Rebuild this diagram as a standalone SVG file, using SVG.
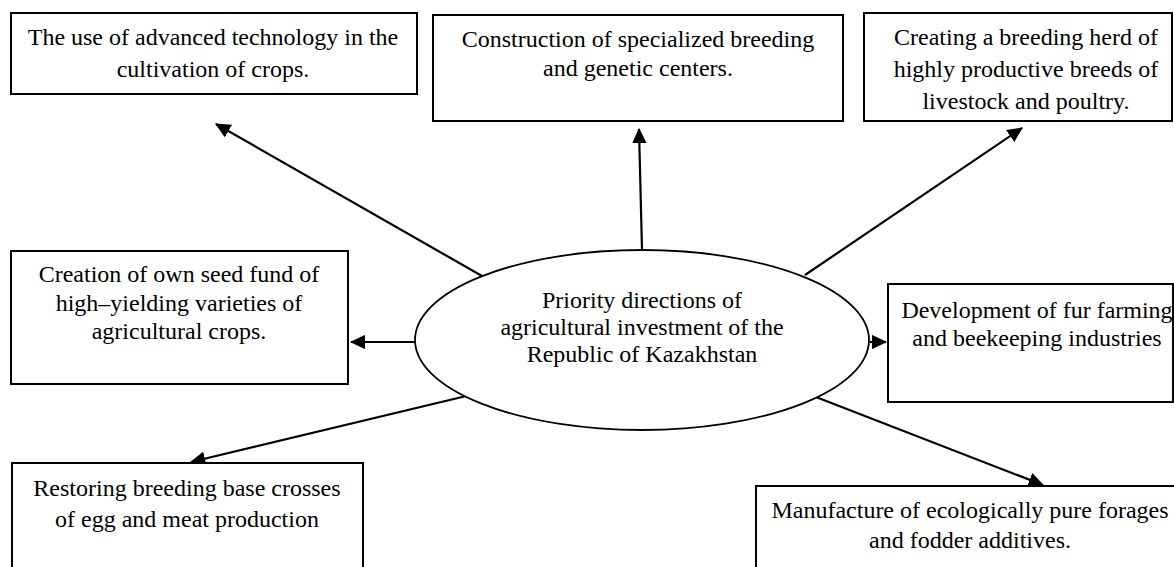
<svg xmlns="http://www.w3.org/2000/svg" width="1174" height="567" viewBox="0 0 1174 567">
<style>
.box{fill:#fff;stroke:#000;stroke-width:2}
.t{font-family:"Liberation Serif","Times New Roman",serif;font-size:24px;fill:#000;text-anchor:middle}
.c{stroke:#000;stroke-width:2.2;fill:none;marker-end:url(#ah)}
</style>
<defs>
<marker id="ah" markerWidth="7" markerHeight="6.6" refX="6.5" refY="3.3" orient="auto" markerUnits="strokeWidth">
<path d="M0,0 L7,3.3 L0,6.6 Z" fill="#000"/>
</marker>
</defs>
<rect width="1174" height="567" fill="#fff"/>
<g id="connectors">
<line class="c" x1="482" y1="276" x2="216" y2="124"/>
<line class="c" x1="642" y1="250" x2="639" y2="129"/>
<line class="c" x1="805" y1="275" x2="1022" y2="128"/>
<line class="c" x1="415" y1="342" x2="351" y2="342"/>
<line class="c" x1="870" y1="342" x2="886" y2="342"/>
<line class="c" x1="483" y1="392" x2="191" y2="462"/>
<line class="c" x1="803" y1="392" x2="1043" y2="485"/>
</g>
<g id="center">
<ellipse cx="642" cy="340" rx="227" ry="90" fill="#fff" stroke="#000" stroke-width="1.8"/>
<text class="t" x="642" y="308">Priority directions of</text>
<text class="t" x="642" y="335">agricultural investment of the</text>
<text class="t" x="642" y="362">Republic of Kazakhstan</text>
</g>
<g id="n1">
<rect class="box" x="11" y="13" width="406" height="81"/>
<text class="t" x="213" y="45">The use of advanced technology in the</text>
<text class="t" x="213" y="77">cultivation of crops.</text>
</g>
<g id="n2">
<rect class="box" x="433" y="15" width="410" height="106"/>
<text class="t" x="638" y="47">Construction of specialized breeding</text>
<text class="t" x="638" y="76">and genetic centers.</text>
</g>
<g id="n3">
<rect class="box" x="864" y="13" width="308" height="108"/>
<text class="t" x="1026" y="45">Creating a breeding herd of</text>
<text class="t" x="1026" y="77">highly productive breeds of</text>
<text class="t" x="1026" y="109">livestock and poultry.</text>
</g>
<g id="n4">
<rect class="box" x="11" y="251" width="337" height="133"/>
<text class="t" x="179" y="282">Creation of own seed fund of</text>
<text class="t" x="179" y="311">high–yielding varieties of</text>
<text class="t" x="179" y="339">agricultural crops.</text>
</g>
<g id="n5">
<rect class="box" x="888" y="284" width="285" height="118"/>
<text class="t" x="1037" y="318">Development of fur farming</text>
<text class="t" x="1037" y="346">and beekeeping industries</text>
</g>
<g id="n6">
<rect class="box" x="12" y="463" width="351" height="120"/>
<text class="t" x="187" y="496">Restoring breeding base crosses</text>
<text class="t" x="187" y="527">of egg and meat production</text>
</g>
<g id="n7">
<rect class="box" x="756" y="486" width="430" height="100"/>
<text class="t" x="970" y="518">Manufacture of ecologically pure forages</text>
<text class="t" x="970" y="548">and fodder additives.</text>
</g>
</svg>
